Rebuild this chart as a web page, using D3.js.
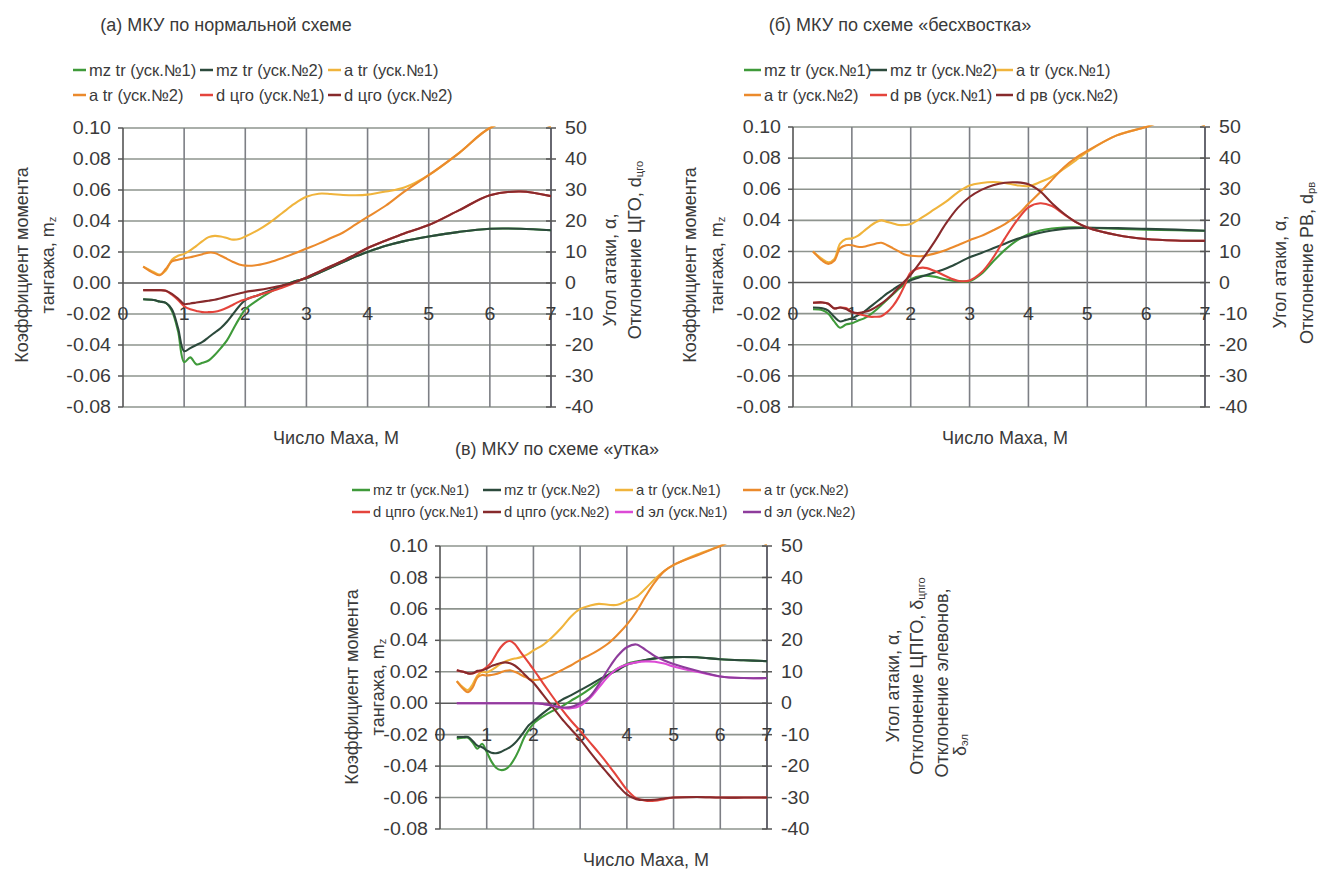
<!DOCTYPE html>
<html><head><meta charset="utf-8">
<script src="https://cdn.jsdelivr.net/npm/d3@7"></script>
<style>
body{margin:0;background:#fff}
svg{display:block}
text{font-family:"Liberation Sans",Arial,sans-serif;fill:#3a3a3a}
</style>
</head><body>
<svg id="chart" width="1320" height="871"></svg>
<script>
// ---------- shared ticks ----------
const machTicks = [0, 1, 2, 3, 4, 5, 6, 7];
const mzTicks = [-0.08, -0.06, -0.04, -0.02, 0.00, 0.02, 0.04, 0.06, 0.08, 0.10];
const degTicks = [-40, -30, -20, -10, 0, 10, 20, 30, 40, 50];

// ---------- (а) normal layout ----------
const machA = [0.33,0.5,0.6,0.7,0.8,0.9,1.0,1.1,1.2,1.3,1.4,1.5,1.6,1.7,1.8,1.9,2.0,2.2,2.4,2.6,2.8,3.0,3.2,3.4,3.6,3.8,4.0,4.3,4.6,5.0,5.5,6.0,6.5,7.0];
const mzA1 = [-0.0105,-0.011,-0.012,-0.0128,-0.018,-0.031,-0.051,-0.048,-0.0525,-0.0515,-0.050,-0.0465,-0.042,-0.037,-0.030,-0.023,-0.017,-0.011,-0.006,-0.002,0.001,0.003,0.0065,0.010,0.0135,0.017,0.020,0.024,0.027,0.030,0.033,0.035,0.035,0.034];
const mzA2 = [-0.0105,-0.011,-0.012,-0.0128,-0.017,-0.029,-0.044,-0.042,-0.040,-0.038,-0.035,-0.032,-0.029,-0.025,-0.020,-0.015,-0.011,-0.008,-0.005,-0.002,0.001,0.003,0.0065,0.010,0.0135,0.017,0.020,0.024,0.027,0.030,0.033,0.035,0.035,0.034];
const aA1 = [5.3,3.6,2.7,4.0,7.5,8.8,9.4,10.5,12.0,13.5,14.8,15.2,15.0,14.5,14.0,14.2,15.0,17.0,19.5,22.5,25.5,27.8,28.8,28.7,28.4,28.3,28.5,29.5,30.8,34.8,42.0,50.0,53.0,50.5];
const aA2 = [5.3,3.2,2.5,4.5,7.0,7.5,8.0,8.3,8.8,9.3,9.8,9.7,8.8,7.8,6.8,6.0,5.6,5.8,6.7,8.0,9.5,11.1,12.7,14.5,16.3,18.8,21.3,25.0,29.5,34.8,42.0,50.0,53.0,50.5];
const dA1 = [-2.3,-2.3,-2.3,-2.5,-3.8,-5.5,-7.5,-8.5,-9.0,-9.4,-9.4,-9.3,-8.8,-8.0,-7.0,-6.0,-5.3,-4.0,-2.8,-1.5,0.0,1.8,3.6,5.4,7.2,9.2,11.3,13.7,16.0,18.7,23.5,28.3,29.5,28.0];
const dA2 = [-2.3,-2.3,-2.3,-2.5,-3.5,-5.0,-6.8,-6.6,-6.3,-6.0,-5.7,-5.4,-4.9,-4.4,-3.9,-3.4,-2.9,-2.3,-1.6,-0.8,0.2,1.8,3.6,5.4,7.2,9.2,11.3,13.7,16.0,18.7,23.5,28.3,29.5,28.0];
const legendA = ["mz tr (уск.№1)","mz tr (уск.№2)","a tr (уск.№1)","a tr (уск.№2)","d цго (уск.№1)","d цго (уск.№2)"];

// ---------- (б) tailless layout ----------
const machB = [0.34,0.5,0.6,0.7,0.8,0.9,1.0,1.1,1.2,1.3,1.4,1.5,1.6,1.7,1.8,1.9,2.0,2.2,2.4,2.6,2.8,3.0,3.2,3.4,3.6,3.8,4.0,4.2,4.4,4.6,4.8,5.0,5.5,6.0,6.5,7.0];
const mzB1 = [-0.0172,-0.0178,-0.020,-0.025,-0.029,-0.027,-0.0262,-0.0245,-0.0232,-0.021,-0.018,-0.0145,-0.011,-0.0075,-0.004,-0.001,0.0022,0.0043,0.0038,0.002,0.0009,0.0009,0.0055,0.0135,0.021,0.027,0.031,0.0335,0.0348,0.0354,0.0355,0.0352,0.0346,0.034,0.0336,0.0333];
const mzB2 = [-0.016,-0.0165,-0.018,-0.022,-0.025,-0.024,-0.023,-0.021,-0.019,-0.016,-0.013,-0.010,-0.007,-0.0045,-0.002,0.0,0.0015,0.004,0.0065,0.009,0.0125,0.0163,0.019,0.022,0.025,0.028,0.030,0.032,0.0335,0.0345,0.035,0.0352,0.035,0.0345,0.034,0.0333];
const aB1 = [10.0,7.5,6.5,7.5,12.5,14.0,14.2,15.0,16.5,18.0,19.3,20.0,19.5,19.0,18.5,18.5,18.8,21.0,23.5,26.0,29.0,31.2,32.0,32.3,32.0,31.3,31.0,32.3,34.0,36.5,39.2,42.0,47.3,50.0,53.0,50.5];
const aB2 = [10.0,7.0,6.0,7.0,11.0,12.0,12.0,11.5,11.5,12.0,12.5,12.8,12.0,11.0,10.0,9.0,8.6,8.5,9.3,10.5,12.0,13.6,15.0,16.8,18.8,21.5,25.3,29.0,33.0,37.0,40.0,42.3,47.3,50.0,53.0,50.5];
const dB1 = [-6.5,-6.4,-6.8,-8.3,-8.0,-8.2,-9.5,-10.0,-10.5,-11.0,-11.0,-10.8,-9.5,-7.5,-4.6,-0.8,3.2,4.8,3.8,2.0,0.6,0.7,3.2,8.0,14.2,19.8,24.2,25.5,24.6,22.0,19.5,17.7,15.3,14.0,13.5,13.4];
const dB2 = [-6.5,-6.4,-6.8,-8.3,-8.0,-8.5,-9.5,-9.8,-9.5,-9.0,-8.0,-6.8,-5.3,-3.5,-1.5,0.5,2.5,7.5,13.0,19.0,24.0,27.5,29.8,31.3,32.1,32.2,31.6,29.3,25.5,22.2,19.5,17.7,15.3,14.0,13.5,13.4];
const legendB = ["mz tr (уск.№1)","mz tr (уск.№2)","a tr (уск.№1)","a tr (уск.№2)","d рв (уск.№1)","d рв (уск.№2)"];

// ---------- (в) canard layout ----------
const machC = [0.36,0.5,0.6,0.7,0.8,0.9,1.0,1.1,1.2,1.3,1.4,1.5,1.6,1.7,1.8,1.9,2.0,2.2,2.4,2.6,2.8,3.0,3.2,3.4,3.6,3.8,4.0,4.2,4.4,4.6,4.8,5.0,5.5,6.0,6.5,7.0];
const mzC1 = [-0.0225,-0.022,-0.022,-0.025,-0.029,-0.0258,-0.031,-0.037,-0.041,-0.0425,-0.042,-0.0395,-0.035,-0.029,-0.022,-0.017,-0.013,-0.0085,-0.005,-0.0022,0.0015,0.005,0.009,0.0135,0.018,0.022,0.025,0.0265,0.0275,0.0285,0.029,0.0293,0.0292,0.028,0.0273,0.0268];
const mzC2 = [-0.0215,-0.0215,-0.0215,-0.024,-0.027,-0.028,-0.030,-0.0315,-0.0318,-0.031,-0.0295,-0.028,-0.0255,-0.022,-0.018,-0.014,-0.0115,-0.0065,-0.002,0.002,0.005,0.0083,0.0115,0.015,0.018,0.021,0.0245,0.026,0.0275,0.0285,0.029,0.0293,0.0292,0.028,0.0273,0.0268];
const aC1 = [7.0,5.0,4.2,6.0,8.8,10.0,9.8,10.5,11.5,12.5,13.3,13.8,14.2,14.5,15.0,15.8,16.8,18.5,21.0,24.0,27.5,30.0,31.0,31.6,31.3,31.3,32.6,33.8,36.5,39.5,42.0,43.9,47.3,50.0,53.0,50.5];
const aC2 = [7.0,4.5,3.5,5.0,8.2,9.0,8.8,9.0,9.3,9.8,10.3,10.5,10.0,9.3,8.5,7.8,7.4,7.8,9.0,10.5,12.0,13.8,15.3,17.0,19.0,21.8,25.0,29.0,34.0,38.5,42.0,44.0,47.0,50.0,53.0,50.5];
const dC1 = [10.5,10.0,9.5,9.5,10.0,10.5,11.5,13.0,15.5,17.8,19.3,19.8,18.8,16.8,14.8,12.8,10.8,6.5,2.3,-1.8,-5.5,-8.8,-12.3,-15.8,-19.5,-23.5,-27.5,-30.2,-31.0,-31.0,-30.5,-30.0,-29.8,-30.0,-30.0,-30.0];
const dC2 = [10.5,10.0,9.5,9.5,10.3,10.5,11.0,11.8,12.3,12.8,13.0,12.7,12.0,10.8,9.3,7.8,6.5,2.8,-1.0,-4.8,-8.2,-11.5,-15.3,-19.0,-22.5,-26.0,-29.0,-30.5,-30.8,-30.7,-30.3,-30.0,-29.8,-30.0,-30.0,-30.0];
const eC1 = [0,0,0,0,0,0,0,0,0,0,0,0,0,0,0,0,0,-0.2,-0.8,-1.5,-1.6,-0.8,1.5,5.0,8.5,11.0,12.3,13.0,13.3,13.2,12.6,11.7,10.0,8.5,8.0,8.0];
const eC2 = [0,0,0,0,0,0,0,0,0,0,0,0,0,0,0,0,0,-0.2,-0.7,-1.3,-1.2,0.0,2.0,6.0,10.8,15.0,17.8,18.7,17.0,15.0,13.6,12.5,10.3,8.5,8.0,8.0];
const legendC = ["mz tr (уск.№1)","mz tr (уск.№2)","a tr (уск.№1)","a tr (уск.№2)","d цпго (уск.№1)","d цпго (уск.№2)","d эл (уск.№1)","d эл (уск.№2)"];

// ---------- colours ----------
const colMz1 = "#3f9a3a", colMz2 = "#2c4a3c", colA1 = "#f0b43c", colA2 = "#eb8a2c",
      colD1 = "#e4443c", colD2 = "#872a2c", colE1 = "#dc4ad6", colE2 = "#8e3c9c";

const svg = d3.select("#chart");
const FONT_TICK = 17.5, TICK_STRETCH = 1.12, FONT_LEG = 16.5, FONT_TITLE = 18, FONT_AX = 18;

// hyphen for negatives, as on the printed axes
const fmtMz = d => d.toFixed(2);
const fmtDeg = d => String(d);

// text that is slightly widened horizontally
function wideText(sel, x, y, anchor, txt) {
  return sel.append("text")
    .attr("transform", `translate(${x},${y}) scale(${TICK_STRETCH},1)`)
    .attr("text-anchor", anchor).attr("dominant-baseline", "central")
    .attr("font-size", FONT_TICK).text(txt);
}

function drawPanel(p) {
  const g = svg.append("g");
  const x = d3.scaleLinear().domain([0, 7]).range([p.left, p.right]);
  const yL = d3.scaleLinear().domain([-0.08, 0.10]).range([p.bottom, p.top]);
  const yR = d3.scaleLinear().domain([-40, 50]).range([p.bottom, p.top]);

  // grid
  g.append("g").selectAll("line").data(mzTicks).join("line")
    .attr("x1", p.left).attr("x2", p.right)
    .attr("y1", d => yL(d)).attr("y2", d => yL(d))
    .attr("stroke", d => d === 0 ? "#5a5a5a" : "#8e948e").attr("stroke-width", 1.6);
  g.append("g").selectAll("line").data(machTicks).join("line")
    .attr("x1", d => x(d)).attr("x2", d => x(d))
    .attr("y1", p.top).attr("y2", p.bottom)
    .attr("stroke", d => (d === 0 ? "#555" : "#7d7f85")).attr("stroke-width", 1.6);

  // left axis ticks + labels
  g.append("g").selectAll("line").data(mzTicks).join("line")
    .attr("x1", p.left - 5).attr("x2", p.left)
    .attr("y1", d => yL(d)).attr("y2", d => yL(d)).attr("stroke", "#555").attr("stroke-width", 1.5);
  const lt = g.append("g");
  mzTicks.forEach(d => wideText(lt, p.left - 12, yL(d), "end", fmtMz(d)));

  // right axis line, cross ticks and labels
  g.append("line").attr("x1", p.right).attr("x2", p.right).attr("y1", p.top).attr("y2", p.bottom)
    .attr("stroke", "#5c5c66").attr("stroke-width", 1.6);
  g.append("g").selectAll("line").data(degTicks).join("line")
    .attr("x1", p.right - 5).attr("x2", p.right + 5)
    .attr("y1", d => yR(d)).attr("y2", d => yR(d)).attr("stroke", "#555").attr("stroke-width", 1.5);
  const rt = g.append("g");
  degTicks.forEach(d => wideText(rt, p.right + 14, yR(d), "start", fmtDeg(d)));

  // x tick labels sit on the −0.02 level
  const xt = g.append("g");
  machTicks.forEach(d => wideText(xt, x(d), yL(-0.02), "middle", String(d)));

  // series
  const clipId = "clip" + p.id;
  svg.append("clipPath").attr("id", clipId).append("rect")
    .attr("x", p.left).attr("y", p.top - 1.5).attr("width", p.right - p.left).attr("height", p.bottom - p.top + 3);
  const lines = g.append("g").attr("clip-path", `url(#${clipId})`);
  p.series.forEach(s => {
    const yy = s.axis === "L" ? yL : yR;
    const line = d3.line().x((d, i) => x(p.mach[i])).y(d => yy(d)).curve(d3.curveCatmullRom.alpha(0.5));
    lines.append("path").datum(s.values).attr("d", line)
      .attr("fill", "none").attr("stroke", s.color).attr("stroke-width", 2.1).attr("stroke-linejoin", "round");
  });

  // legend
  const leg = g.append("g");
  p.series.forEach((s, i) => {
    const col = i % p.legCols, row = Math.floor(i / p.legCols);
    const lx = p.legX[col], ly = p.legY[row];
    leg.append("line").attr("x1", lx).attr("x2", lx + p.legDash).attr("y1", ly).attr("y2", ly)
      .attr("stroke", s.color).attr("stroke-width", 2.5);
    leg.append("text").attr("x", lx + p.legDash + 3).attr("y", ly).attr("dominant-baseline", "central")
      .attr("font-size", p.legFont).text(p.legend[i]);
  });

  // titles
  g.append("text").attr("x", p.titleX).attr("y", p.titleY).attr("text-anchor", "middle")
    .attr("dominant-baseline", "central").attr("font-size", FONT_TITLE).text(p.title);
  g.append("text").attr("x", p.xTitleX).attr("y", p.xTitleY).attr("text-anchor", "middle")
    .attr("dominant-baseline", "central").attr("font-size", FONT_AX).text("Число Маха, М");

  // rotated axis titles: each item [cx, cy, parts]
  p.vTitles.forEach(([cx, cy, parts]) => {
    const t = g.append("text").attr("transform", `translate(${cx},${cy}) rotate(-90)`)
      .attr("text-anchor", "middle").attr("dominant-baseline", "central").attr("font-size", FONT_AX);
    parts.forEach(part => {
      if (typeof part === "string") t.append("tspan").text(part);
      else t.append("tspan").attr("font-size", FONT_AX * 0.62).attr("dy", 4).text(part.sub);
    });
  });
}

const mzTitle = (cx1, cx2, cy) => [
  [cx1, cy, ["Коэффициент момента"]],
  [cx2, cy, ["тангажа,  m", {sub: "z"}]]
];

drawPanel({
  id: "A", left: 123, right: 551, top: 128, bottom: 407, mach: machA,
  series: [
    {values: mzA1, axis: "L", color: colMz1}, {values: mzA2, axis: "L", color: colMz2},
    {values: aA1, axis: "R", color: colA1}, {values: aA2, axis: "R", color: colA2},
    {values: dA1, axis: "R", color: colD1}, {values: dA2, axis: "R", color: colD2}
  ],
  legend: legendA, legCols: 3, legX: [73, 200, 328], legY: [70, 95], legDash: 13, legFont: FONT_LEG,
  title: "(а) МКУ по нормальной схеме", titleX: 226, titleY: 25,
  xTitleX: 336, xTitleY: 438,
  vTitles: mzTitle(22, 48, 265).concat([
    [610, 270, ["Угол атаки, α,"]],
    [635, 250, ["Отклонение ЦГО, d", {sub: "цго"}]]
  ])
});

drawPanel({
  id: "B", left: 793, right: 1205, top: 127, bottom: 407, mach: machB,
  series: [
    {values: mzB1, axis: "L", color: colMz1}, {values: mzB2, axis: "L", color: colMz2},
    {values: aB1, axis: "R", color: colA1}, {values: aB2, axis: "R", color: colA2},
    {values: dB1, axis: "R", color: colD1}, {values: dB2, axis: "R", color: colD2}
  ],
  legend: legendB, legCols: 3, legX: [744, 870, 996], legY: [70, 95], legDash: 17, legFont: FONT_LEG,
  title: "(б) МКУ по схеме «бесхвостка»", titleX: 900, titleY: 25,
  xTitleX: 1005, xTitleY: 438,
  vTitles: mzTitle(690, 717, 265).concat([
    [1280, 272, ["Угол атаки, α,"]],
    [1307, 263, ["Отклонение РВ, d", {sub: "рв"}]]
  ])
});

drawPanel({
  id: "C", left: 440, right: 767, top: 546, bottom: 829, mach: machC,
  series: [
    {values: mzC1, axis: "L", color: colMz1}, {values: mzC2, axis: "L", color: colMz2},
    {values: aC1, axis: "R", color: colA1}, {values: aC2, axis: "R", color: colA2},
    {values: dC1, axis: "R", color: colD1}, {values: dC2, axis: "R", color: colD2},
    {values: eC1, axis: "R", color: colE1}, {values: eC2, axis: "R", color: colE2}
  ],
  legend: legendC, legCols: 4, legX: [352, 483, 615, 743], legY: [490, 512], legDash: 18, legFont: 14.8,
  title: "(в) МКУ по схеме «утка»", titleX: 557, titleY: 449,
  xTitleX: 646, xTitleY: 860,
  vTitles: mzTitle(352, 378, 687).concat([
    [893, 686, ["Угол атаки, α,"]],
    [917, 676, ["Отклонение ЦПГО, δ", {sub: "цпго"}]],
    [942, 683, ["Отклонение элевонов,"]],
    [960, 745, ["δ", {sub: "эл"}]]
  ])
});
</script>
</body></html>
